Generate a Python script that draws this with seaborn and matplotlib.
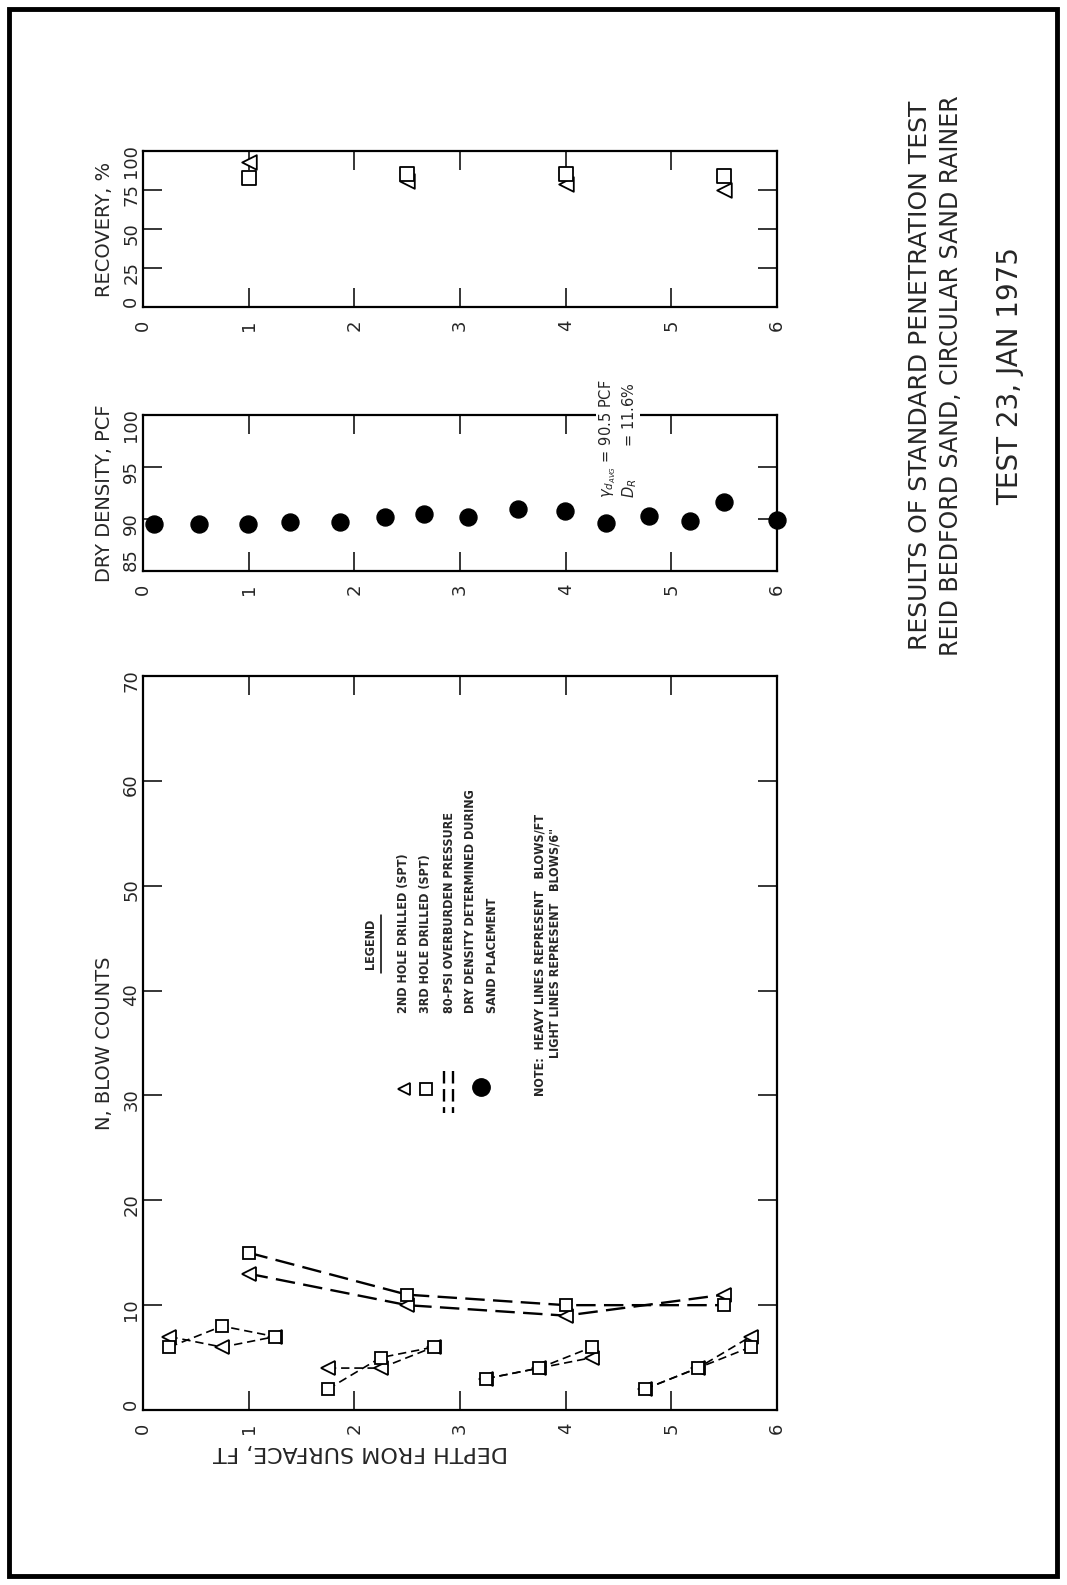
import numpy as np
import pandas as pd
import matplotlib.pyplot as plt
import matplotlib.patches as mpatches
import matplotlib.lines as mlines
import seaborn as sns

sns.set_style('ticks')
plt.rcParams['font.family'] = ['DejaVu Sans']
plt.rcParams['lines.scale_dashes'] = False

# ---- data ----
# light lines = blows per 6 in, three readings per sampling run
light_depth = [[0.25, 0.75, 1.25], [1.75, 2.25, 2.75], [3.25, 3.75, 4.25], [4.75, 5.25, 5.75]]
hole2_light = [[7, 6, 7], [4, 4, 6], [3, 4, 5], [2, 4, 7]]
hole3_light = [[6, 8, 7], [2, 5, 6], [3, 4, 6], [2, 4, 6]]

# heavy lines = blows per ft
heavy_depth = [1.0, 2.5, 4.0, 5.5]
hole2_heavy = [13, 10, 9, 11]
hole3_heavy = [15, 11, 10, 10]

# dry density during sand placement
dens_depth = [0.10, 0.53, 0.99, 1.39, 1.86, 2.29, 2.66, 3.08, 3.55, 3.99, 4.38, 4.79, 5.18, 5.50, 6.00]
dens_pcf = [89.5, 89.5, 89.5, 89.7, 89.7, 90.2, 90.5, 90.2, 91.0, 90.8, 89.6, 90.3, 89.8, 91.6, 89.9]

# recovery
rec_depth = [1.0, 2.5, 4.0, 5.5]
hole2_rec = [93, 81, 79, 75]
hole3_rec = [83, 85, 85, 84]

depth_ticks = [0, 1, 2, 3, 4, 5, 6]
n_ticks = [0, 10, 20, 30, 40, 50, 60, 70]
dens_ticks = [85, 90, 95, 100]
rec_ticks = [0, 25, 50, 75, 100]

legend_lines = ['2ND HOLE DRILLED (SPT)', '3RD HOLE DRILLED (SPT)', '80-PSI OVERBURDEN PRESSURE',
                'DRY DENSITY DETERMINED DURING', 'SAND PLACEMENT']

heavy_ls = (0, (14, 6))
light_ls = (0, (6, 3.5))
legend_font = dict(family=['DejaVu Sans'], fontstretch='condensed', fontweight='bold', fontsize=9)

fig = plt.figure(figsize=(10.67, 15.85), dpi=100)
ax_n = fig.add_axes([0.134, 0.1104, 0.5942, 0.4631])
ax_d = fig.add_axes([0.134, 0.6397, 0.5942, 0.0984])
ax_r = fig.add_axes([0.134, 0.8063, 0.5942, 0.0984])


def style_axis(ax, yticks, ylabel):
    ax.set_xlim(0, 6)
    ax.set_ylim(yticks[0], yticks[-1])
    ax.set_xticks(depth_ticks)
    ax.set_yticks(yticks)
    ax.tick_params(direction='in', length=14, width=1.3, top=True, right=True,
                   labelsize=13, labelrotation=90)
    ax.tick_params(axis='y', pad=2)
    ax.tick_params(axis='x', pad=9)
    # lowest value label sits just above the corner, clear of the depth "0"
    ax.get_yticklabels()[0].set_va('bottom')
    for s in ax.spines.values():
        s.set_linewidth(1.6)
        s.set_color('black')
    ax.set_ylabel(ylabel, fontsize=14, labelpad=6)
    ax.set_xlabel('')


# ---- blow counts ----
for dep, n2, n3 in zip(light_depth, hole2_light, hole3_light):
    sns.lineplot(x=dep, y=n2, ax=ax_n, color='k', lw=1.2, linestyle=light_ls, marker='<',
                 markersize=10, markerfacecolor='white', markeredgecolor='k', markeredgewidth=1.3)
    sns.lineplot(x=dep, y=n3, ax=ax_n, color='k', lw=1.2, linestyle=light_ls, marker='s',
                 markersize=9, markerfacecolor='white', markeredgecolor='k', markeredgewidth=1.3)

sns.lineplot(x=heavy_depth, y=hole2_heavy, ax=ax_n, color='k', lw=1.7, linestyle=heavy_ls, marker='<',
             markersize=10, markerfacecolor='white', markeredgecolor='k', markeredgewidth=1.3)
sns.lineplot(x=heavy_depth, y=hole3_heavy, ax=ax_n, color='k', lw=1.7, linestyle=heavy_ls, marker='s',
             markersize=9, markerfacecolor='white', markeredgecolor='k', markeredgewidth=1.3)
style_axis(ax_n, n_ticks, 'N, BLOW COUNTS')

# legend block drawn inside the blow-count panel
ax_n.text(0.3596, 0.635, 'LEGEND', transform=ax_n.transAxes, rotation=90, ha='center', va='center',
          **legend_font)
ax_n.add_line(mlines.Line2D([0.3754, 0.3754], [0.596, 0.674], transform=ax_n.transAxes, color='k', lw=1.1))
for fx, txt in zip([0.411, 0.446, 0.483, 0.517, 0.551], legend_lines):
    ax_n.text(fx, 0.541, txt, transform=ax_n.transAxes, rotation=90, ha='center', va='bottom',
              **legend_font)
ax_n.plot([0.411], [0.438], transform=ax_n.transAxes, marker='<', ms=9, mfc='white', mec='k', mew=1.3)
ax_n.plot([0.446], [0.438], transform=ax_n.transAxes, marker='s', ms=8, mfc='white', mec='k', mew=1.3)
for fx in [0.4746, 0.4888]:
    ax_n.plot([fx, fx], [0.462, 0.405], transform=ax_n.transAxes, color='k', lw=1.7, linestyle=(0, (9, 4)))
ax_n.plot([0.5335], [0.440], transform=ax_n.transAxes, marker='o', ms=12.5, color='k')
ax_n.text(0.626, 0.4278, 'NOTE:  HEAVY LINES REPRESENT   BLOWS/FT', transform=ax_n.transAxes, rotation=90,
          ha='center', va='bottom', **legend_font)
ax_n.text(0.650, 0.4796, 'LIGHT LINES REPRESENT   BLOWS/6"', transform=ax_n.transAxes, rotation=90,
          ha='center', va='bottom', **legend_font)

# ---- dry density ----
sns.scatterplot(x=dens_depth, y=dens_pcf, ax=ax_d, color='k', s=150, edgecolor='k', clip_on=False, zorder=4)
style_axis(ax_d, dens_ticks, 'DRY DENSITY, PCF')
ax_d.text(0.733, 0.47, r'$\gamma_{d_{AVG}}$ = 90.5 PCF', transform=ax_d.transAxes, rotation=90,
          ha='center', va='bottom', fontsize=10.5, bbox=dict(fc='white', ec='none', pad=1), zorder=5)
ax_d.text(0.767, 0.47, r'$D_R$       = 11.6%', transform=ax_d.transAxes, rotation=90,
          ha='center', va='bottom', fontsize=10.5, bbox=dict(fc='white', ec='none', pad=1), zorder=5)

# ---- recovery ----
sns.scatterplot(x=rec_depth, y=hole2_rec, ax=ax_r, marker='<', s=110, facecolor='white', edgecolor='k',
                linewidth=1.3, clip_on=False, zorder=4)
sns.scatterplot(x=rec_depth, y=hole3_rec, ax=ax_r, marker='s', s=90, facecolor='white', edgecolor='k',
                linewidth=1.3, clip_on=False, zorder=4)
style_axis(ax_r, rec_ticks, 'RECOVERY, %')

# ---- page texts ----
fig.text(0.338, 0.0839, 'DEPTH FROM SURFACE, FT', rotation=180, ha='center', va='center', fontsize=16)
fig.text(0.862, 0.763, 'RESULTS OF STANDARD PENETRATION TEST', rotation=90, ha='center', va='center', fontsize=18)
fig.text(0.891, 0.763, 'REID BEDFORD SAND, CIRCULAR SAND RAINER', rotation=90, ha='center', va='center', fontsize=17)
fig.text(0.947, 0.763, 'TEST 23, JAN 1975', rotation=90, ha='center', va='center', fontsize=20)

fig.add_artist(mpatches.Rectangle((0.0084, 0.0057), 0.9822, 0.9886, transform=fig.transFigure,
                                  fill=False, lw=3.5, ec='black'))

fig.savefig('out.png', dpi=100)
